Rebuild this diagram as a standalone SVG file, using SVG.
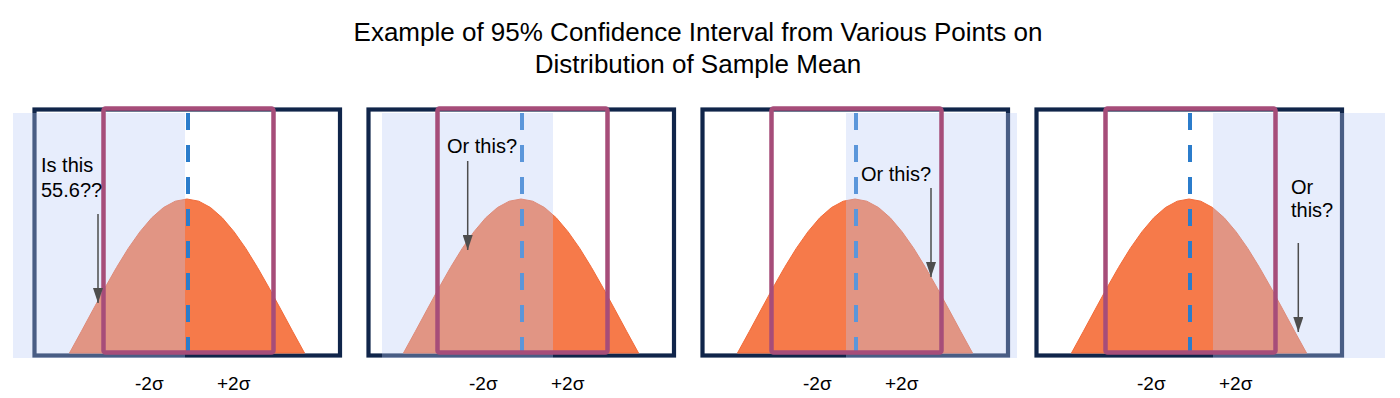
<svg xmlns="http://www.w3.org/2000/svg" width="1400" height="398" viewBox="0 0 1400 398">
  <style>
    .frame { fill: #ffffff; stroke: #10254a; stroke-width: 4.2; }
    .bell { fill: #f67a4a; stroke: #f26b3a; stroke-width: 1; }
    .mean { stroke: #2b7ccb; stroke-width: 4; stroke-dasharray: 17 15; fill: none; }
    .band { fill: #b8c9f5; fill-opacity: 0.34; }
    .ci { fill: none; stroke: #a64d79; stroke-width: 4.5; }
    .title { font-family: "Liberation Sans", Arial, sans-serif; font-size: 26px; fill: #000; text-anchor: middle; }
    .note { font-family: "Liberation Sans", Arial, sans-serif; font-size: 20px; fill: #000; }
    .sig { font-family: "Liberation Sans", Arial, sans-serif; font-size: 19px; fill: #000; }
    .arrow { stroke: #4d4d4d; stroke-width: 1.5; fill: none; marker-end: url(#head); }
  </style>
  <defs>
    <marker id="head" markerUnits="userSpaceOnUse" markerWidth="15" markerHeight="10" refX="15" refY="5" orient="auto">
      <path d="M0,0 L15,5 L0,10 Z" fill="#4d4d4d"/>
    </marker>
    <path id="curve" d="M69.5,353 L81.25,331.6 L93,309.8 L104.75,288.2 L116.5,267.5 L128.25,248.4 L140,231.7 L151.75,217.8 L163.5,207.5 L175.25,201.2 L187,199 L198.75,201.2 L210.5,207.5 L222.25,217.8 L234,231.7 L245.75,248.4 L257.5,267.5 L269.25,288.2 L281,309.8 L292.75,331.6 L304.5,353 Z"/>
  </defs>

  <g id="title">
    <text class="title" x="698" y="41">Example of 95% Confidence Interval from Various Points on</text>
    <text class="title" x="698" y="73">Distribution of Sample Mean</text>
  </g>

  <g id="panel-1">
    <rect class="frame" x="34.5" y="109.5" width="305.5" height="246"/>
    <use href="#curve" class="bell"/>
    <line class="mean" x1="188" y1="113" x2="188" y2="360"/>
    <rect class="band" x="13" y="113" width="172" height="245"/>
    <rect class="ci" x="103.5" y="108.5" width="170" height="244" rx="2"/>
    <text class="sig" x="135" y="390">-2σ</text>
    <text class="sig" x="217" y="390">+2σ</text>
  </g>

  <g id="panel-2" transform="translate(334,0)">
    <rect class="frame" x="34.5" y="109.5" width="305.5" height="246"/>
    <use href="#curve" class="bell"/>
    <line class="mean" x1="188" y1="113" x2="188" y2="360"/>
    <rect class="band" x="48" y="113" width="171" height="245"/>
    <rect class="ci" x="103.5" y="108.5" width="170" height="244" rx="2"/>
    <text class="sig" x="135" y="390">-2σ</text>
    <text class="sig" x="217" y="390">+2σ</text>
  </g>

  <g id="panel-3" transform="translate(668,0)">
    <rect class="frame" x="34.5" y="109.5" width="305.5" height="246"/>
    <use href="#curve" class="bell"/>
    <line class="mean" x1="188" y1="113" x2="188" y2="360"/>
    <rect class="band" x="178" y="113" width="171" height="245"/>
    <rect class="ci" x="103.5" y="108.5" width="170" height="244" rx="2"/>
    <text class="sig" x="135" y="390">-2σ</text>
    <text class="sig" x="217" y="390">+2σ</text>
  </g>

  <g id="panel-4" transform="translate(1002,0)">
    <rect class="frame" x="34.5" y="109.5" width="305.5" height="246"/>
    <use href="#curve" class="bell"/>
    <line class="mean" x1="188" y1="113" x2="188" y2="360"/>
    <rect class="band" x="211" y="113" width="172" height="245"/>
    <rect class="ci" x="103.5" y="108.5" width="170" height="244" rx="2"/>
    <text class="sig" x="135" y="390">-2σ</text>
    <text class="sig" x="217" y="390">+2σ</text>
  </g>

  <g id="note-1">
    <text class="note" x="41" y="172">Is this</text>
    <text class="note" x="41" y="197">55.6??</text>
  </g>
  <g id="note-2">
    <text class="note" x="447" y="153">Or this?</text>
  </g>
  <g id="note-3">
    <text class="note" x="861" y="181">Or this?</text>
  </g>
  <g id="note-4">
    <text class="note" x="1291" y="194">Or</text>
    <text class="note" x="1291" y="217">this?</text>
  </g>

  <g id="connectors">
    <line class="arrow" x1="98" y1="214" x2="98" y2="303"/>
    <line class="arrow" x1="467.7" y1="161" x2="467.7" y2="250"/>
    <line class="arrow" x1="931" y1="188" x2="931" y2="277"/>
    <line class="arrow" x1="1298.3" y1="243" x2="1298.3" y2="332"/>
  </g>
</svg>
